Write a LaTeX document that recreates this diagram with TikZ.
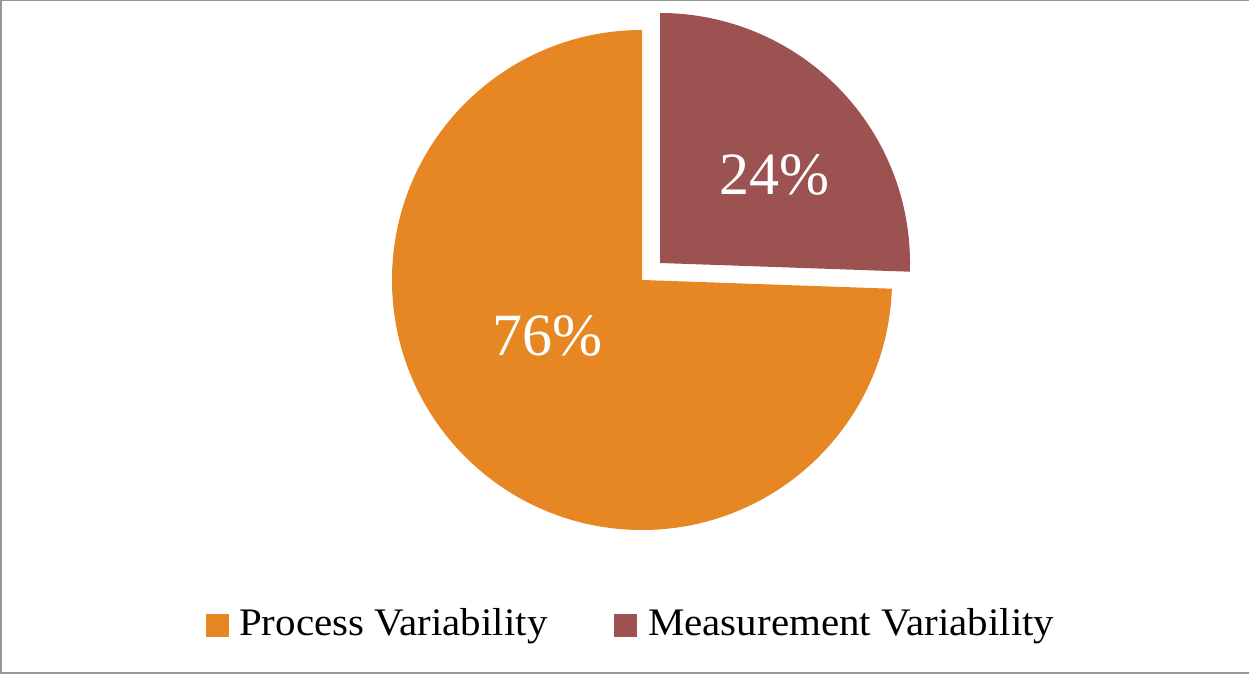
\documentclass[tikz,border=0pt]{standalone}
\usepackage{fontspec}
\usepackage{graphicx}
\setmainfont{Liberation Serif}
\definecolor{pieorange}{RGB}{230,135,35}
\definecolor{piered}{RGB}{157,82,82}
\definecolor{framegray}{RGB}{150,150,150}
\newcommand{\widetext}[1]{\scalebox{1.05}[1]{#1}}
\begin{document}
\begin{tikzpicture}[x=1pt,y=1pt,
  legendbox/.style={minimum size=23pt,inner sep=0pt,outer sep=0pt},
  legendtext/.style={anchor=base west,inner sep=0pt,font=\fontsize{39}{44}\selectfont},
  pctlabel/.style={text=white,inner sep=0pt,font=\fontsize{60}{66}\selectfont}]
\useasboundingbox (0,0) rectangle (1249,674);
\draw[framegray,line width=1.5pt] (1249,673.25) -- (0.75,673.25) -- (0.75,1.25) -- (1249,1.25);
% slices
\coordinate (oc) at (642,394);
\coordinate (rc) at (660,411);
\fill[pieorange] (oc) -- ++(90:250) arc[start angle=90,end angle=358,radius=250] -- cycle;
\fill[piered] (rc) -- ++(90:250) arc[start angle=90,end angle=-2,radius=250] -- cycle;
\node[pctlabel] (p76) at (547,338) {76\%};
\node[pctlabel] (p24) at (774,499) {24\%};
% legend
\node[legendbox,fill=pieorange] (lk1) at (217.5,48.5) {};
\node[legendtext] (lt1) at (239,38) {\widetext{Process Variability}};
\node[legendbox,fill=piered] (lk2) at (625.5,48.5) {};
\node[legendtext] (lt2) at (648,38) {\widetext{Measurement Variability}};
\end{tikzpicture}
\end{document}
